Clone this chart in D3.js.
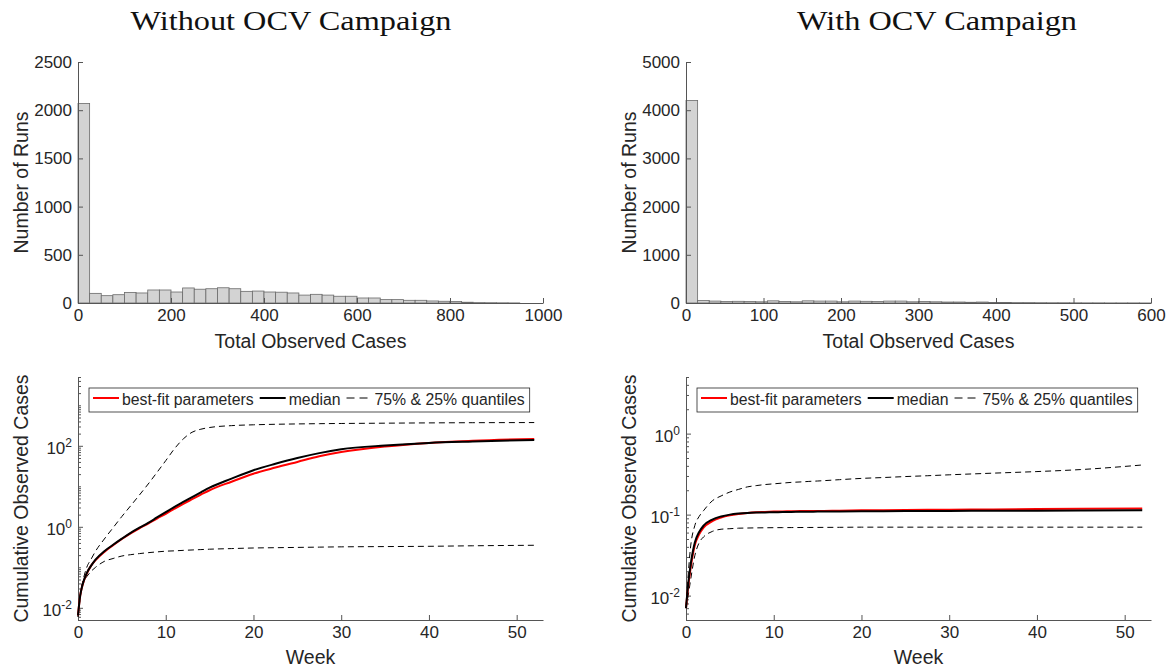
<!DOCTYPE html>
<html><head><meta charset="utf-8">
<script src="https://cdn.jsdelivr.net/npm/d3@7"></script>
<style>
body{margin:0;background:#fff}
text{font-family:"Liberation Sans",Arial,Helvetica,sans-serif;fill:#262626}
</style>
</head><body>
<svg id="c" width="1172" height="671"></svg>
<script>
// ---------------- data ----------------
const titles = ["Without OCV Campaign", "With OCV Campaign"];
const histXLabel = "Total Observed Cases";
const histYLabel = "Number of Runs";
const lineXLabel = "Week";
const lineYLabel = "Cumulative Observed Cases";
const legendLabels = ["best-fit parameters", "median", "75% & 25% quantiles"];

const histBinWidthWithout = 25;
const histCountsWithout = [2070,100,76,86,110,104,135,135,114,156,143,148,158,148,121,124,114,112,104,82,90,82,70,70,52,52,35,35,28,28,21,18,16,8,4,3,2,1,0,0];
const histXDomainWithout = [0, 1000];
const histYDomainWithout = [0, 2500];
const histXTicksWithout = [0,200,400,600,800,1000];
const histYTicksWithout = [0,500,1000,1500,2000,2500];

const histBinWidthWith = 15;
const histCountsWith = [4200,50,40,30,35,30,25,45,30,25,45,40,40,25,40,35,30,40,40,25,30,25,20,20,15,20,10,10,8,8,6,5,5,4,3,3,2,2,2,1];
const histXDomainWith = [0, 600];
const histYDomainWith = [0, 5000];
const histXTicksWith = [0,100,200,300,400,500,600];
const histYTicksWith = [0,1000,2000,3000,4000,5000];

const weeks = [0,0.25,0.5,1,1.5,2,3,4,5,6,7,8,9,10,11,12,13,14,15,17.5,20,22.5,25,27.5,30,35,40,45,52];
const weekDomain = [0, 53];
const weekTicks = [0,10,20,30,40,50];

// Without OCV
const bestFitWithout = [0.0065,0.02,0.035,0.07,0.11,0.15,0.24,0.35,0.5,0.69,0.92,1.2,1.6,2.1,2.8,3.7,4.8,6.2,8,13,20.5,29,40,55,70,96,118,133,148];
const medianWithout  = [0.0065,0.02,0.036,0.072,0.11,0.155,0.25,0.36,0.51,0.71,0.95,1.25,1.7,2.3,3.1,4.1,5.4,7.1,9.3,15.5,25,36,50,66,82,102,118,128,140];
const q75Without     = [0.006,0.02,0.04,0.1,0.16,0.25,0.5,0.95,1.8,3.3,6.1,11.4,22,43,85,148,216,257,283,315,330,340,347,352,356,362,368,372,375];
const q25Without     = [0.006,0.018,0.04,0.059,0.08,0.1,0.14,0.165,0.19,0.205,0.218,0.23,0.24,0.25,0.255,0.262,0.268,0.274,0.28,0.29,0.3,0.305,0.31,0.315,0.32,0.325,0.33,0.34,0.35];
const logDomainWithout = [0.005, 5000];
const logMajorWithout = [-2, 0, 2];

// With OCV
const bestFitWith = [0.007,0.013,0.021,0.042,0.057,0.069,0.083,0.092,0.098,0.102,0.105,0.107,0.108,0.109,0.1095,0.110,0.1105,0.111,0.111,0.112,0.113,0.1135,0.114,0.1145,0.115,0.116,0.117,0.118,0.119];
const medianWith  = [0.007,0.014,0.023,0.045,0.061,0.073,0.087,0.095,0.100,0.103,0.105,0.106,0.1065,0.107,0.1075,0.108,0.1083,0.1086,0.109,0.1095,0.110,0.1103,0.1106,0.1108,0.111,0.1115,0.112,0.1125,0.113];
const q75With     = [0.007,0.018,0.038,0.073,0.095,0.112,0.148,0.17,0.19,0.205,0.22,0.228,0.235,0.24,0.245,0.25,0.253,0.257,0.26,0.27,0.28,0.287,0.295,0.302,0.31,0.325,0.34,0.36,0.41];
const q25With     = [0.007,0.010,0.015,0.031,0.045,0.053,0.062,0.066,0.067,0.068,0.0683,0.0686,0.0688,0.069,0.0691,0.0692,0.0693,0.0694,0.0695,0.0697,0.070,0.070,0.070,0.070,0.070,0.070,0.070,0.070,0.070];
const logDomainWith = [0.005, 5];
const logMajorWith = [-2, -1, 0];

// ---------------- layout ----------------
const svg = d3.select("#c");
const AX = "#555";
const TICK_FS = 17, LABEL_FS = 19.5, LEG_FS = 15.8;
const cols = [{x0:78, x1:543}, {x0:686, x1:1151}];
const histRow = {top:62, bot:303};
const lineRow = {top:377, bot:620};

// titles
const titleGeom = [{cx:291, w:321}, {cx:937, w:280}];
titles.forEach((t,i)=>{
  svg.append("text").attr("x", titleGeom[i].cx).attr("y", 30)
    .attr("text-anchor","middle")
    .style("font-family","'Liberation Serif','DejaVu Serif',serif")
    .style("font-size","27px").style("fill","#111")
    .attr("textLength", titleGeom[i].w).attr("lengthAdjust","spacingAndGlyphs")
    .text(t);
});

function styleAxis(g){
  g.select(".domain").attr("stroke", AX).attr("stroke-width",1);
  g.selectAll(".tick line").attr("stroke", AX).attr("stroke-width",1);
  g.selectAll(".tick text").style("font-size", TICK_FS+"px").style("fill","#262626");
}

function yLabel(x, cy, txt){
  svg.append("text").attr("transform",`translate(${x},${cy}) rotate(-90)`)
    .attr("text-anchor","middle").style("font-size",LABEL_FS+"px").text(txt);
}
function xLabel(cx, y, txt){
  svg.append("text").attr("x",cx).attr("y",y).attr("text-anchor","middle")
    .style("font-size",LABEL_FS+"px").text(txt);
}

const fmt = d3.format("d");

function histogram(col, counts, bw, xDom, yDom, xTicks, yTicks){
  const x = d3.scaleLinear().domain(xDom).range([col.x0, col.x1]);
  const y = d3.scaleLinear().domain(yDom).range([histRow.bot, histRow.top]);
  const g = svg.append("g");
  g.selectAll("rect").data(counts).join("rect")
    .attr("x", (d,i)=>x(i*bw)).attr("width",(d,i)=>x((i+1)*bw)-x(i*bw))
    .attr("y", d=>y(d)).attr("height", d=>y(0)-y(d))
    .attr("fill","#d3d3d3").attr("stroke","#6a6a6a").attr("stroke-width",0.8);
  const gx = svg.append("g").attr("transform",`translate(0,${histRow.bot})`)
    .call(d3.axisBottom(x).tickValues(xTicks).tickFormat(fmt).tickSizeInner(-5).tickSizeOuter(0).tickPadding(6));
  styleAxis(gx);
  const gy = svg.append("g").attr("transform",`translate(${col.x0},0)`)
    .call(d3.axisLeft(y).tickValues(yTicks).tickFormat(fmt).tickSizeInner(-5).tickSizeOuter(0).tickPadding(6));
  styleAxis(gy);
  yLabel(col.x0-50, (histRow.top+histRow.bot)/2, histYLabel);
  xLabel((col.x0+col.x1)/2, histRow.bot+45, histXLabel);
}

function linePanel(col, series, logDom, majors){
  const x = d3.scaleLinear().domain(weekDomain).range([col.x0, col.x1]);
  const y = d3.scaleLog().domain(logDom).range([lineRow.bot, lineRow.top]);
  const gx = svg.append("g").attr("transform",`translate(0,${lineRow.bot})`)
    .call(d3.axisBottom(x).tickValues(weekTicks).tickFormat(fmt).tickSizeInner(-5).tickSizeOuter(0).tickPadding(6));
  styleAxis(gx);
  // minor ticks
  const minors = [];
  for(let e=-4;e<=4;e++) for(let k=2;k<=9;k++){ const v=k*Math.pow(10,e); if(v>=logDom[0]&&v<=logDom[1]) minors.push(v);}
  for(let e=-4;e<=4;e++){ const v=Math.pow(10,e); if(v>=logDom[0]&&v<=logDom[1]&&!majors.includes(e)) minors.push(v);}
  const gm = svg.append("g").attr("transform",`translate(${col.x0},0)`)
    .call(d3.axisLeft(y).tickValues(minors).tickSizeInner(-3).tickSizeOuter(0).tickFormat(""));
  styleAxis(gm);
  const gy = svg.append("g").attr("transform",`translate(${col.x0},0)`)
    .call(d3.axisLeft(y).tickValues(majors.map(e=>Math.pow(10,e))).tickSizeInner(-5).tickSizeOuter(0).tickPadding(6).tickFormat(""));
  styleAxis(gy);
  gy.selectAll(".tick text").each(function(d){
    const t = d3.select(this); t.text(null);
    t.attr("dy","0.45em");
    t.append("tspan").text("10");
    t.append("tspan").attr("dy","-0.55em").style("font-size","12px").text(String(Math.round(Math.log10(d))));
  });
  const line = d3.line().x((d,i)=>x(weeks[i])).y(d=>y(d)).curve(d3.curveMonotoneX);
  const g = svg.append("g");
  g.append("path").attr("d", line(series.q75)).attr("fill","none").attr("stroke","#000").attr("stroke-width",1).attr("stroke-dasharray","6,4");
  g.append("path").attr("d", line(series.q25)).attr("fill","none").attr("stroke","#000").attr("stroke-width",1).attr("stroke-dasharray","6,4");
  g.append("path").attr("d", line(series.best)).attr("fill","none").attr("stroke","#ff0000").attr("stroke-width",2);
  g.append("path").attr("d", line(series.median)).attr("fill","none").attr("stroke","#000").attr("stroke-width",2);
  yLabel(col.x0-50, (lineRow.top+lineRow.bot)/2, lineYLabel);
  xLabel((col.x0+col.x1)/2, lineRow.bot+44, lineXLabel);

  // legend
  const lg = svg.append("g").attr("transform",`translate(${col.x0+11},${lineRow.top+11})`);
  const box = lg.append("rect").attr("x",0).attr("y",0).attr("height",24).attr("fill","#fff").attr("stroke","#262626").attr("stroke-width",0.8);
  let cx = 4;
  const styles = [{c:"#ff0000",w:2,da:null},{c:"#000",w:2,da:null},{c:"#000",w:1,da:"8,5"}];
  legendLabels.forEach((lab,i)=>{
    const len = i===2?21:26;
    lg.append("line").attr("x1",cx).attr("x2",cx+len).attr("y1",10).attr("y2",10)
      .attr("stroke",styles[i].c).attr("stroke-width",styles[i].w).attr("stroke-dasharray",styles[i].da);
    cx += len + (i===2?7:3);
    const t = lg.append("text").attr("x",cx).attr("y",17).style("font-size",LEG_FS+"px").text(lab);
    cx += t.node().getComputedTextLength() + 6;
  });
  box.attr("width", cx-1);
}

histogram(cols[0], histCountsWithout, histBinWidthWithout, histXDomainWithout, histYDomainWithout, histXTicksWithout, histYTicksWithout);
histogram(cols[1], histCountsWith, histBinWidthWith, histXDomainWith, histYDomainWith, histXTicksWith, histYTicksWith);
linePanel(cols[0], {best:bestFitWithout, median:medianWithout, q75:q75Without, q25:q25Without}, logDomainWithout, logMajorWithout);
linePanel(cols[1], {best:bestFitWith, median:medianWith, q75:q75With, q25:q25With}, logDomainWith, logMajorWith);
</script>
</body></html>
